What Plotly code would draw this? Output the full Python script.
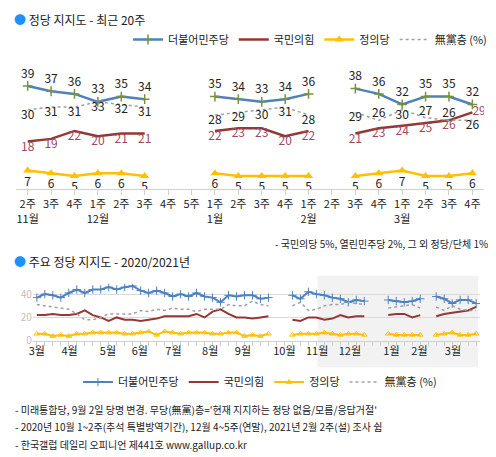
import plotly.graph_objects as go

FONT = "Noto Sans CJK KR"
BLUE = "#4f81bd"
RED = "#953735"
GOLD = "#ffc000"
GRAY = "#a0a0a0"

# ---- recent 20 weeks
week_labels = ["2주", "3주", "4주", "1주", "2주", "3주", "4주", "5주", "1주", "2주",
               "3주", "4주", "1주", "2주", "3주", "4주", "1주", "2주", "3주", "4주"]
month_labels = ["11월", "", "", "12월", "", "", "", "", "1월", "", "", "", "2월", "", "", "", "3월", "", "", ""]
dem = [39, 37, 36, 33, 35, 34, None, None, 35, 34, 33, 34, 36, None, 38, 36, 32, 35, 35, 32]
ppp = [18, 19, 22, 20, 21, 21, None, None, 22, 23, 23, 20, 22, None, 21, 23, 24, 25, 26, 29]
jus = [7, 6, 5, 6, 6, 5, None, None, 6, 5, 5, 5, 5, None, 5, 6, 7, 5, 5, 6]
ind = [30, 31, 31, 33, 32, 31, None, None, 28, 29, 30, 31, 28, None, 29, 26, 30, 27, 26, 26]

# ---- weekly 2020/2021 (weeks from March 2020)
dem_y = ([37, 40, 39, 37, 41, 44, 41, 44, 44, 46, 44, 46, 47, 43, 41, 43, 41, 38, 40, 38,
          41, 38, 37, 33, 39, 38, 39, 39, 36, 37] + [None, None] +
         [39, 36, 42, 40, 39, 37, 36, 33, 35, 34] + [None, None] +
         [35, 34, 33, 34, 36] + [None] + [38, 36, 32, 35, 35, 32])
ppp_y = ([22, 22, 23, 22, 22, 23, 26, 22, 20, 17, 20, 18, 18, 17, 18, 19, 21, 21, 21, 21,
          23, 20, 25, 27, 23, 20, 20, 19, 20, 21] + [None, None] +
         [18, 17, 20, 20, 18, 19, 22, 20, 21, 21] + [None, None] +
         [22, 23, 23, 20, 22] + [None] + [21, 23, 24, 25, 26, 29])
jus_y = ([6, 6, 4, 5, 4, 6, 6, 7, 7, 7, 7, 6, 6, 7, 8, 5, 8, 7, 6, 7,
          7, 7, 6, 6, 7, 7, 4, 5, 4, 6] + [None, None] +
         [5, 6, 6, 6, 7, 6, 5, 6, 6, 5] + [None, None] +
         [6, 5, 5, 5, 5] + [None] + [5, 6, 7, 5, 5, 6])
ind_y = ([31, 30, 29, 28, 27, 23, 18, 18, 20, 23, 23, 23, 23, 26, 25, 27, 26, 28, 27, 27,
          25, 27, 27, 27, 31, 30, 30, 34, 31, 30] + [None, None] +
         [30, 33, 26, 27, 30, 31, 31, 33, 32, 31] + [None, None] +
         [28, 29, 30, 31, 28] + [None] + [29, 26, 30, 27, 26, 26])
weeks = list(range(len(dem_y)))
month_names = ["3월", "4월", "5월", "6월", "7월", "8월", "9월", "10월", "11월", "12월", "1월", "2월", "3월"]
month_pos = [0, 4.1, 8.9, 12.9, 17.1, 21.7, 25.8, 31, 35.1, 39.2, 44.4, 47.9, 52.1]

xi = list(range(20))
txt = lambda v: [("" if a is None else str(a)) for a in v]
VF = 12

# the page shows the figure a little wider than asked, so leave room on the right
OX = 8
W, H = 496 - OX, 450
px = lambda x: max(x - OX, 0) / W
py = lambda y: 1 - y / H

fig = go.Figure()
# top chart
fig.add_trace(go.Scatter(x=xi, y=dem, name="더불어민주당", mode="lines+markers+text", text=txt(dem),
                         textposition="top center", line=dict(color=BLUE, width=2.5),
                         marker=dict(symbol="cross-thin", size=7, line=dict(color="#77933c", width=1.5)),
                         textfont=dict(size=VF, color="#222")))
ppp_pos = ["bottom center"] * 19 + ["middle right"]
fig.add_trace(go.Scatter(x=xi, y=ppp, name="국민의힘", mode="lines+text", text=txt(ppp),
                         textposition=ppp_pos, line=dict(color=RED, width=2.5),
                         textfont=dict(size=VF, color="#9b4a62")))
fig.add_trace(go.Scatter(x=xi, y=jus, name="정의당", mode="lines+markers+text", text=txt(jus),
                         textposition="bottom center", line=dict(color=GOLD, width=2.5),
                         marker=dict(symbol="triangle-up", size=8, color=GOLD),
                         textfont=dict(size=VF, color="#222")))
ind_pos = ["bottom center"] * 15 + ["top center", "bottom center", "top center", "top center", "bottom center"]
fig.add_trace(go.Scatter(x=xi, y=ind, name="無黨층 (%)", mode="lines+text", text=txt(ind),
                         textposition=ind_pos, line=dict(color=GRAY, width=1.5, dash="dot"),
                         textfont=dict(size=VF, color="#222")))

# bottom chart
common = dict(xaxis="x2", yaxis="y2", legend="legend2")
fig.add_trace(go.Scatter(x=weeks, y=dem_y, name="더불어민주당", mode="lines+markers", line=dict(color=BLUE, width=2),
                         marker=dict(symbol="cross-thin", size=6, line=dict(color=BLUE, width=1)), **common))
fig.add_trace(go.Scatter(x=weeks, y=ppp_y, name="국민의힘", mode="lines", line=dict(color=RED, width=2), **common))
fig.add_trace(go.Scatter(x=weeks, y=jus_y, name="정의당", mode="lines+markers", line=dict(color=GOLD, width=2),
                         marker=dict(symbol="triangle-up-open", size=5, color=GOLD), **common))
fig.add_trace(go.Scatter(x=weeks, y=ind_y, name="無黨층 (%)", mode="lines", line=dict(color=GRAY, width=1.5, dash="dot"),
                         **common))

fig.update_layout(
    width=W, height=H, margin=dict(l=0, r=0, t=0, b=0),
    plot_bgcolor="white", paper_bgcolor="white",
    font=dict(family=FONT, size=11, color="#222"),
    xaxis=dict(domain=[px(12), px(484)], range=[-0.5, 19.5], tickvals=xi,
               ticktext=[w + ("<br>" + m if m else "<br> ") for w, m in zip(week_labels, month_labels)],
               showgrid=False, showline=True, linecolor="#d0d0d0", ticks="outside", tickcolor="#d0d0d0",
               ticklen=5, tickfont=dict(size=11), zeroline=False),
    yaxis=dict(domain=[py(184), py(55)], range=[0, 48], visible=False),
    xaxis2=dict(domain=[px(29), px(480)], range=[-0.5, 55.5], tickvals=month_pos, ticktext=month_names,
                showgrid=False, showline=True, linecolor="#d0d0d0", ticks="", tickfont=dict(size=11),
                minor=dict(ticks="outside", dtick=1, tick0=0, ticklen=4, tickcolor="#d0d0d0"),
                zeroline=False, anchor="y2"),
    yaxis2=dict(domain=[py(338), py(280)], range=[0, 49], tickvals=[0, 20, 40],
                gridcolor="#d9d9d9", showline=False, zeroline=False, tickfont=dict(size=10, color="#c0c0c0"),
                anchor="x2"),
    legend=dict(orientation="h", x=px(492), xanchor="right", y=py(32), yanchor="middle",
                font=dict(size=11), bgcolor="rgba(0,0,0,0)", itemwidth=30),
    legend2=dict(orientation="h", x=px(258), xanchor="center", y=py(380), yanchor="middle",
                 font=dict(size=11), bgcolor="rgba(0,0,0,0)", itemwidth=30),
    showlegend=True,
)
fig.add_shape(type="rect", xref="paper", yref="paper", x0=px(316), x1=px(478),
              y0=py(365), y1=py(272), fillcolor="#f2f2f2", line_width=0, layer="below")

anns = [
    ("<span style='color:#1e90ff'>●</span> 정당 지지도 - 최근 20주", 8, 12, "left", 12),
    ("<span style='color:#1e90ff'>●</span> 주요 정당 지지도 - 2020/2021년", 8, 258, "left", 12),
    ("- 국민의당 5%, 열린민주당 2%, 그 외 정당/단체 1%", 490, 239, "right", 10),
    ("- 미래통합당, 9월 2일 당명 변경. 무당(無黨)층='현재 지지하는 정당 없음/모름/응답거절'", 9, 408, "left", 10),
    ("- 2020년 10월 1~2주(추석 특별방역기간), 12월 4~5주(연말), 2021년 2월 2주(설) 조사 쉼", 9, 425, "left", 10),
    ("- 한국갤럽 데일리 오피니언 제441호 www.gallup.co.kr", 9, 443, "left", 10),
]
for t, x, y, anchor, size in anns:
    fig.add_annotation(text=t, xref="paper", yref="paper", x=px(x), y=py(y), xanchor=anchor,
                       yanchor="middle", showarrow=False, font=dict(size=size, color="#222"))

fig.write_html("out.html")
